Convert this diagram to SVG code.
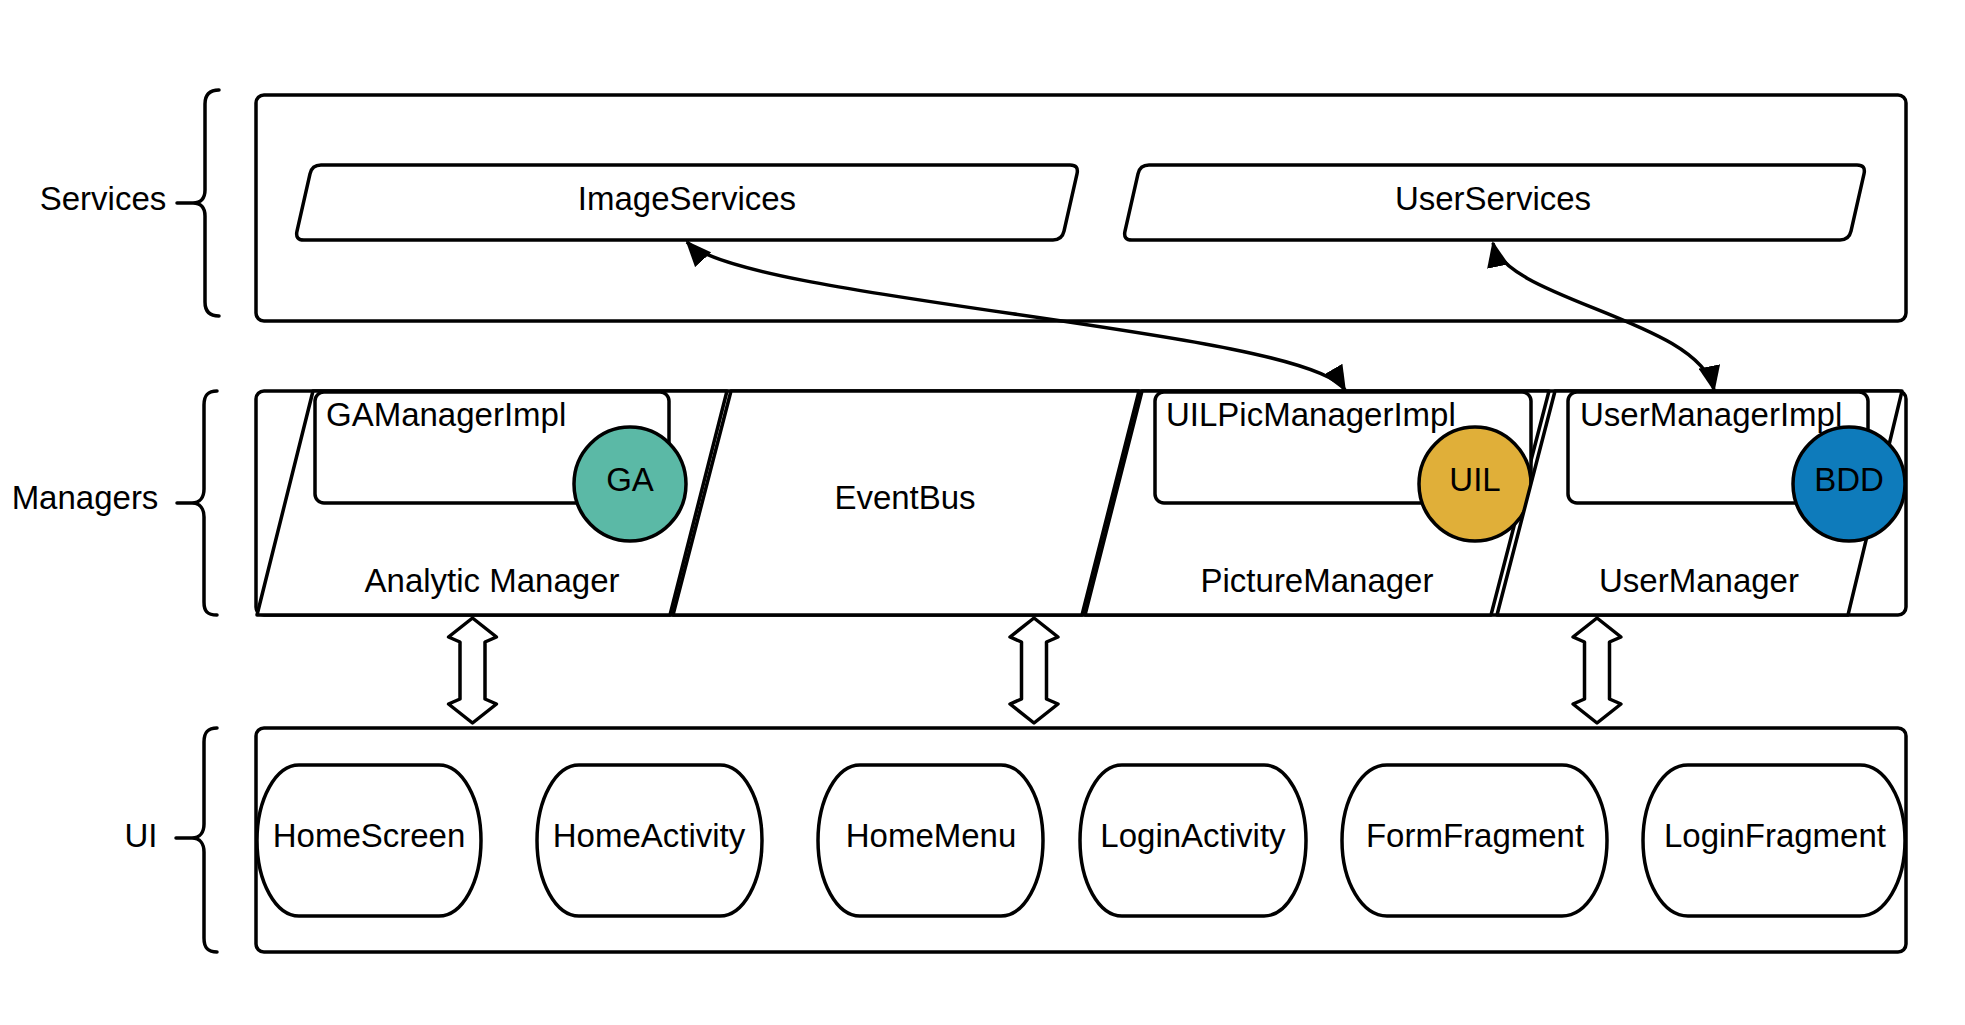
<svg xmlns="http://www.w3.org/2000/svg" width="1965" height="1025" viewBox="0 0 1965 1025">
<defs>
<style>
.s{fill:#fff;stroke:#000;stroke-width:3.5;stroke-linejoin:round}
.b{fill:none;stroke:#000;stroke-width:3.5;stroke-linecap:round;stroke-linejoin:round}
.t{font-family:"Liberation Sans",Arial,sans-serif;font-size:33px;fill:#000}
.c{text-anchor:middle}
.e{stroke:#000;stroke-width:3.5}
.w{fill:none;stroke:#000;stroke-width:3.5}
</style>
<marker id="ah" viewBox="0 0 26 22" refX="24" refY="11" markerWidth="26" markerHeight="22" markerUnits="userSpaceOnUse" orient="auto-start-reverse">
<path d="M0,0 L26,11 L0,22 Z" fill="#000"/>
</marker>
</defs>
<rect width="1965" height="1025" fill="#fff"/>

<g id="labels">
<text class="t c" x="103" y="210">Services</text>
<path class="b" d="M219 90 C209 90 205 95 205 104 L205 190 C205 198 201 203 193 203 C201 203 205 208 205 216 L205 302 C205 311 209 316 219 316 M177 203 L193 203"/>
<text class="t c" x="85" y="509">Managers</text>
<path class="b" d="M217 391 C207 391 204 396 204 405 L204 489 C204 497 200 503 192 503 C200 503 204 509 204 517 L204 602 C204 611 207 615 217 615 M177 503 L192 503"/>
<text class="t c" x="141" y="847">UI</text>
<path class="b" d="M217 728 C207 728 204 733 204 742 L204 824 C204 832 200 838 192 838 C200 838 204 844 204 852 L204 938 C204 947 207 952 217 952 M176 838 L192 838"/>
</g>

<g id="services">
<rect class="s" x="256" y="95" width="1650" height="226" rx="8"/>
</g>
<g id="imageservices">
<path class="s" d="M321 165 L1070 165 Q1079 165 1077 173.8 L1064 231.2 Q1062 240 1053 240 L304 240 Q295 240 297 231.2 L310 173.8 Q312 165 321 165 Z"/>
<text class="t c" x="687" y="210">ImageServices</text>
</g>
<g id="userservices">
<path class="s" d="M1149 165 L1857 165 Q1866 165 1864 173.8 L1851 231.2 Q1849 240 1840 240 L1132 240 Q1123 240 1125 231.2 L1138 173.8 Q1140 165 1149 165 Z"/>
<text class="t c" x="1493" y="210">UserServices</text>
</g>

<g id="managers">
<rect class="s" x="256" y="391" width="1650" height="224" rx="8"/>
</g>
<g id="analyticmanager">
<polygon class="s" points="313,391 727,391 670,615 257,615"/>
<rect class="s" x="315" y="392" width="354" height="111" rx="9"/>
<text class="t" x="326" y="426">GAManagerImpl</text>
<ellipse class="e" cx="630" cy="484" rx="56" ry="57" fill="#5bb9a6"/>
<text class="t c" x="630" y="491">GA</text>
<text class="t c" x="492" y="592">Analytic Manager</text>
</g>
<g id="eventbus">
<polygon class="s" points="731,391 1139,391 1082,615 673,615"/>
<text class="t c" x="905" y="509">EventBus</text>
</g>
<g id="picturemanager">
<polygon class="s" points="1142,391 1549,391 1491,615 1085,615"/>
<rect class="s" x="1155" y="392" width="376" height="111" rx="9"/>
<text class="t" x="1166" y="426">UILPicManagerImpl</text>
<ellipse class="e" cx="1475" cy="484" rx="56" ry="57" fill="#e0af39"/>
<text class="t c" x="1475" y="491">UIL</text>
<text class="t c" x="1317" y="592">PictureManager</text>
</g>
<g id="usermanager">
<polygon class="s" points="1555,391 1902,391 1848,615 1497,615"/>
<rect class="s" x="1568" y="392" width="300" height="111" rx="9"/>
<text class="t" x="1580" y="426">UserManagerImpl</text>
<ellipse class="e" cx="1849" cy="484" rx="56" ry="57" fill="#0e7bbb"/>
<text class="t c" x="1849" y="491">BDD</text>
<text class="t c" x="1699" y="592">UserManager</text>
</g>

<g id="ui">
<rect class="s" x="256" y="728" width="1650" height="224" rx="8"/>
</g>
<g id="homescreen"><rect class="s" x="257" y="765" width="224" height="151" rx="42" ry="75.5"/><text class="t c" x="369" y="847">HomeScreen</text></g>
<g id="homeactivity"><rect class="s" x="537" y="765" width="225" height="151" rx="42" ry="75.5"/><text class="t c" x="649" y="847">HomeActivity</text></g>
<g id="homemenu"><rect class="s" x="818" y="765" width="225" height="151" rx="42" ry="75.5"/><text class="t c" x="931" y="847">HomeMenu</text></g>
<g id="loginactivity"><rect class="s" x="1080" y="765" width="226" height="151" rx="42" ry="75.5"/><text class="t c" x="1193" y="847">LoginActivity</text></g>
<g id="formfragment"><rect class="s" x="1342" y="765" width="265" height="151" rx="45" ry="75.5"/><text class="t c" x="1475" y="847">FormFragment</text></g>
<g id="loginfragment"><rect class="s" x="1643" y="765" width="262" height="151" rx="45" ry="75.5"/><text class="t c" x="1775" y="847">LoginFragment</text></g>

<g id="connectors">
<path class="w" d="M687 242 C740 300 1310 330 1345 390" marker-start="url(#ah)" marker-end="url(#ah)"/>
<path class="w" d="M1493 243 C1505 300 1700 320 1714 390" marker-start="url(#ah)" marker-end="url(#ah)"/>
<path class="s" d="M472.5 618 L496.5 637 L485 642 L485 699 L496.5 704 L472.5 723 L448.5 704 L460 699 L460 642 L448.5 637 Z"/>
<path class="s" d="M1034 618 L1058 637 L1046.5 642 L1046.5 699 L1058 704 L1034 723 L1010 704 L1021.5 699 L1021.5 642 L1010 637 Z"/>
<path class="s" d="M1597 618 L1621 637 L1609.5 642 L1609.5 699 L1621 704 L1597 723 L1573 704 L1584.5 699 L1584.5 642 L1573 637 Z"/>
</g>
</svg>
